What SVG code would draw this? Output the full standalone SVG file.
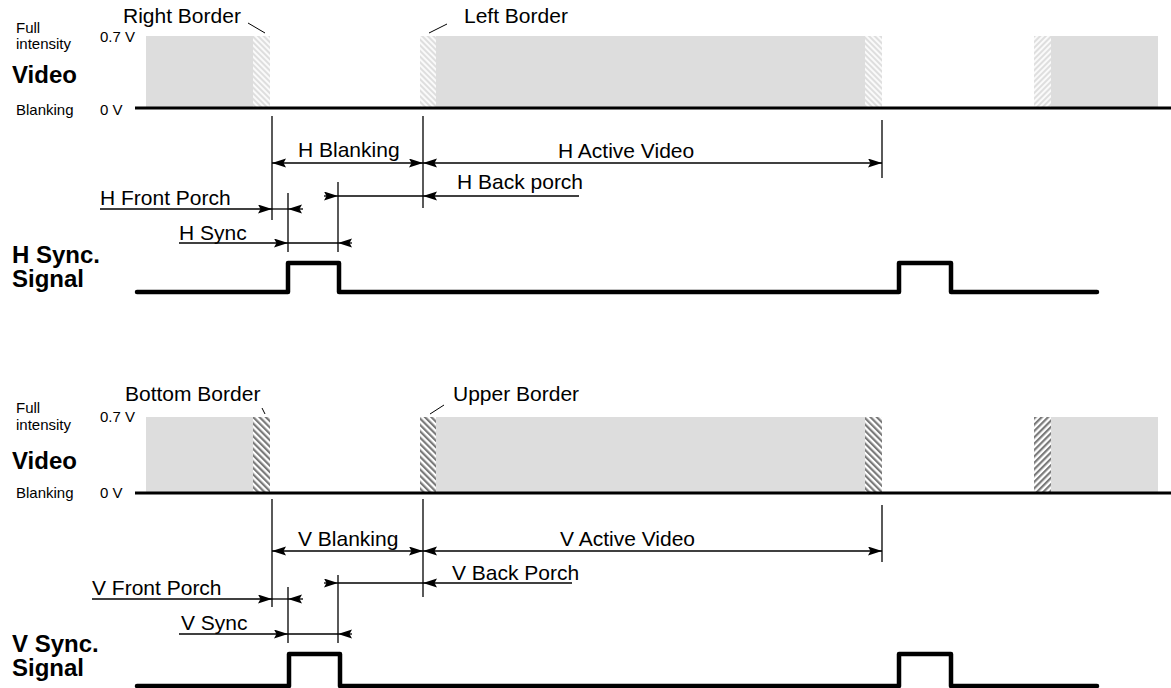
<svg xmlns="http://www.w3.org/2000/svg" width="1171" height="688" viewBox="0 0 1171 688">
<defs>
<pattern id="hlB" patternUnits="userSpaceOnUse" width="4" height="4" patternTransform="rotate(-45)"><rect width="4" height="4" fill="#fafafa"/><rect width="2" height="4" fill="#dedede"/></pattern>
<pattern id="hlF" patternUnits="userSpaceOnUse" width="4" height="4" patternTransform="rotate(45)"><rect width="4" height="4" fill="#fafafa"/><rect width="2" height="4" fill="#dedede"/></pattern>
<pattern id="hdB" patternUnits="userSpaceOnUse" width="4.5" height="4.5" patternTransform="rotate(-45)"><rect width="4.5" height="4.5" fill="#ffffff"/><rect width="2.2" height="4.5" fill="#7a7a7a"/></pattern>
<pattern id="hdF" patternUnits="userSpaceOnUse" width="4.5" height="4.5" patternTransform="rotate(45)"><rect width="4.5" height="4.5" fill="#ffffff"/><rect width="2.2" height="4.5" fill="#7a7a7a"/></pattern>
<marker id="ah" markerUnits="userSpaceOnUse" markerWidth="16" markerHeight="10" refX="14" refY="4.5" orient="auto-start-reverse" viewBox="0 0 16 10"><path d="M0,0 L14,4.5 L0,9 L2.5,4.5 Z" fill="#000"/></marker>
<style>
text{font-family:"Liberation Sans",Arial,sans-serif;fill:#000}
.lbl{font-size:21px}
.sm{font-size:15px}
.big{font-size:24px;font-weight:bold}
.gray{fill:#dddddd}
.base{stroke:#000;stroke-width:3;fill:none}
.dim{stroke:#000;stroke-width:1.3;fill:none}
.arr{stroke:#000;stroke-width:1.3;fill:none;marker-end:url(#ah)}
.arr2{stroke:#000;stroke-width:1.3;fill:none;marker-end:url(#ah);marker-start:url(#ah)}
.lead{stroke:#000;stroke-width:1;fill:none}
.sig{stroke:#000;stroke-width:4.5;fill:none;stroke-linejoin:round;stroke-linecap:round}
</style>
</defs>

<g id="h-video">
<rect class="gray" x="146" y="36" width="107" height="72"/>
<rect x="253" y="36" width="17" height="72" fill="url(#hlB)"/>
<rect x="420" y="36" width="16" height="72" fill="url(#hlB)"/>
<rect class="gray" x="436" y="36" width="429" height="72"/>
<rect x="865" y="36" width="17" height="72" fill="url(#hlB)"/>
<rect x="1034" y="36" width="17" height="72" fill="url(#hlF)"/>
<rect class="gray" x="1051" y="36" width="107" height="72"/>
<line class="base" x1="135" y1="108" x2="1171" y2="108"/>
<text class="sm" x="16" y="33">Full</text>
<text class="sm" x="16" y="49">intensity</text>
<text class="sm" x="100" y="42">0.7 V</text>
<text class="big" x="12" y="83">Video</text>
<text class="sm" x="16" y="115">Blanking</text>
<text class="sm" x="100" y="115">0 V</text>
<text class="lbl" x="123" y="23">Right Border</text>
<line class="lead" x1="248" y1="23" x2="265" y2="33"/>
<text class="lbl" x="464" y="23">Left Border</text>
<line class="lead" x1="429" y1="33" x2="447" y2="24"/>
</g>

<g id="h-timing">
<line class="dim" x1="272" y1="116" x2="272" y2="220"/>
<line class="dim" x1="423" y1="116" x2="423" y2="208"/>
<line class="dim" x1="882" y1="120" x2="882" y2="178"/>
<line class="dim" x1="288" y1="193" x2="288" y2="252"/>
<line class="dim" x1="338" y1="182" x2="338" y2="252"/>
<text class="lbl" x="298" y="157">H Blanking</text>
<text class="lbl" x="558" y="158">H Active Video</text>
<text class="lbl" x="457" y="189">H Back porch</text>
<text class="lbl" x="100" y="205">H Front Porch</text>
<text class="lbl" x="179" y="240">H Sync</text>
</g>

<g id="h-sync">
<text class="big" x="12" y="263">H Sync.<tspan x="12" dy="24">Signal</tspan></text>
<polyline class="sig" points="137,292 288,292 288,263 339,263 339,292 899,292 899,263 951,263 951,292 1097,292"/>
</g>

<g id="v-video">
<rect class="gray" x="146" y="417" width="107" height="76"/>
<rect x="253" y="417" width="17" height="76" fill="url(#hdB)"/>
<rect x="420" y="417" width="16" height="76" fill="url(#hdB)"/>
<rect class="gray" x="436" y="417" width="429" height="76"/>
<rect x="865" y="417" width="17" height="76" fill="url(#hdB)"/>
<rect x="1034" y="417" width="17" height="76" fill="url(#hdF)"/>
<rect class="gray" x="1051" y="417" width="107" height="76"/>
<line class="base" x1="135" y1="493" x2="1171" y2="493"/>
<text class="sm" x="16" y="413">Full</text>
<text class="sm" x="16" y="430">intensity</text>
<text class="sm" x="100" y="422">0.7 V</text>
<text class="big" x="12" y="469">Video</text>
<text class="sm" x="16" y="498">Blanking</text>
<text class="sm" x="100" y="498">0 V</text>
<text class="lbl" x="125" y="401">Bottom Border</text>
<line class="lead" x1="262" y1="408" x2="265" y2="414"/>
<text class="lbl" x="453" y="401">Upper Border</text>
<line class="lead" x1="430" y1="414" x2="444" y2="405"/>
</g>

<g id="v-timing">
<line class="dim" x1="272" y1="499" x2="272" y2="607"/>
<line class="dim" x1="423" y1="499" x2="423" y2="597"/>
<line class="dim" x1="882" y1="505" x2="882" y2="562"/>
<line class="dim" x1="288" y1="587" x2="288" y2="643"/>
<line class="dim" x1="338" y1="575" x2="338" y2="643"/>
<text class="lbl" x="298" y="546">V Blanking</text>
<text class="lbl" x="560" y="546">V Active Video</text>
<text class="lbl" x="452" y="580">V Back Porch</text>
<text class="lbl" x="92" y="595">V Front Porch</text>
<text class="lbl" x="181" y="630">V Sync</text>
</g>

<g id="v-sync">
<text class="big" x="12" y="652">V Sync.<tspan x="12" dy="24">Signal</tspan></text>
<polyline class="sig" points="137,686 289,686 289,654 340,654 340,686 899,686 899,654 951,654 951,686 1097,686"/>
</g>

<g id="connectors">
<line class="arr2" x1="272" y1="163" x2="423" y2="163"/>
<line class="arr2" x1="423" y1="163" x2="882" y2="163"/>
<line class="arr" x1="579" y1="196" x2="423" y2="196"/>
<line class="dim" x1="423" y1="196" x2="338" y2="196"/>
<line class="arr" x1="324" y1="196" x2="338" y2="196"/>
<line class="arr" x1="100" y1="209" x2="272" y2="209"/>
<line class="dim" x1="272" y1="209" x2="288" y2="209"/>
<line class="arr" x1="303" y1="209" x2="288" y2="209"/>
<line class="arr" x1="179" y1="243" x2="288" y2="243"/>
<line class="dim" x1="288" y1="243" x2="338" y2="243"/>
<line class="arr" x1="352" y1="243" x2="338" y2="243"/>

<line class="arr2" x1="272" y1="551" x2="423" y2="551"/>
<line class="arr2" x1="423" y1="551" x2="882" y2="551"/>
<line class="arr" x1="572" y1="583" x2="423" y2="583"/>
<line class="dim" x1="423" y1="583" x2="338" y2="583"/>
<line class="arr" x1="324" y1="583" x2="338" y2="583"/>
<line class="arr" x1="92" y1="599" x2="272" y2="599"/>
<line class="dim" x1="272" y1="599" x2="288" y2="599"/>
<line class="arr" x1="303" y1="599" x2="288" y2="599"/>
<line class="arr" x1="179" y1="634" x2="288" y2="634"/>
<line class="dim" x1="288" y1="634" x2="338" y2="634"/>
<line class="arr" x1="352" y1="634" x2="338" y2="634"/>
</g>
</svg>
